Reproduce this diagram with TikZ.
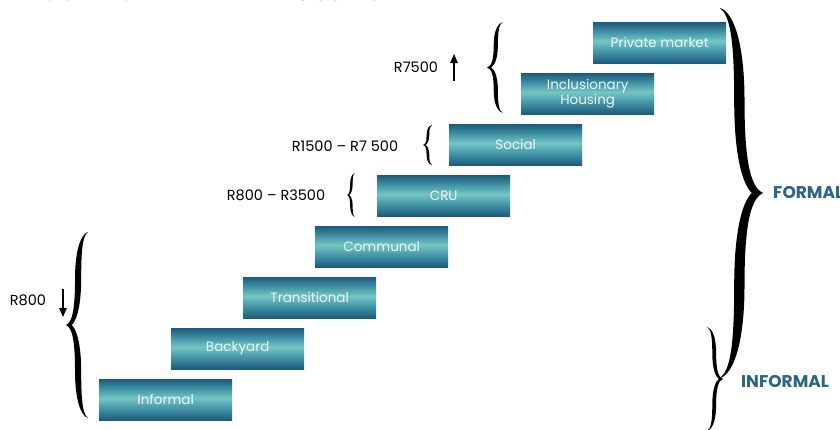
\documentclass[tikz,border=0pt]{standalone}
\usepackage{fontspec}
\setmainfont{Poppins}
\usetikzlibrary{arrows.meta}
\definecolor{tdark}{HTML}{1E5A7C}
\definecolor{tmid}{HTML}{3E8FA3}
\definecolor{tlight}{HTML}{74C6C4}
\definecolor{labblue}{HTML}{2A6587}
\definecolor{boxtext}{HTML}{EEF6F6}
\pgfdeclareverticalshading{tealbar}{100bp}{color(0bp)=(tdark); color(25bp)=(tdark); color(38bp)=(tmid); color(52bp)=(tlight); color(64bp)=(tmid); color(75bp)=(tdark); color(100bp)=(tdark)}
\tikzset{
  rung/.style={shading=tealbar, minimum width=133pt, minimum height=41pt, inner sep=0pt,
    anchor=north west, text=boxtext, font=\fontsize{13.5}{13.5}\selectfont, align=center},
  price/.style={inner sep=0pt, font=\fontsize{14.5}{15}\selectfont, text=black},
  sector/.style={inner sep=0pt, anchor=west, font=\fontsize{17}{17}\selectfont\bfseries, text=labblue},
  pricearrow/.style={line width=1.1pt, -{Triangle[length=9pt,width=7.5pt]}}
}
% calligraphic brace: x of ends, y top, y bottom, signed width, half thickness (normalized)
\newcommand{\calbrace}[5]{%
  \begin{scope}[shift={(#1,{(#2+#3)/2})}, xscale=#4, yscale={(#3-#2)/2}]
    \fill (0,1) .. controls (0.3,0.98) and ({0.45+#5},0.82) .. ({0.45+#5},0.5)
      .. controls ({0.45+#5},0.16) and (0.72,0.03) .. (1,0)
      .. controls (0.72,-0.03) and ({0.45+#5},-0.16) .. ({0.45+#5},-0.5)
      .. controls ({0.45+#5},-0.82) and (0.3,-0.98) .. (0,-1)
      .. controls (0.22,-0.96) and ({0.45-#5},-0.85) .. ({0.45-#5},-0.5)
      .. controls ({0.45-#5},-0.18) and (0.55,-0.04) .. (0.74,0)
      .. controls (0.55,0.04) and ({0.45-#5},0.18) .. ({0.45-#5},0.5)
      .. controls ({0.45-#5},0.85) and (0.22,0.96) .. (0,1) -- cycle;
  \end{scope}}
\begin{document}
\begin{tikzpicture}[x=1pt, y=-1pt]
\useasboundingbox (0,0) rectangle (840,429);
\clip (0,0) rectangle (840,429);
\fill[white] (0,0) rectangle (840,429);

% title (cut off at the top)
\node[anchor=base west, inner sep=0pt] (title) at (20,0)
  {\resizebox{458pt}{!}{\textbf{FIGURE 2:} THE RENTAL HOUSING LADDER}};

% ladder rungs
\node[rung] (informal) at (99,379) {Informal};
\node[rung] (backyard) at (171,328) {Backyard};
\node[rung] (transitional) at (243,277) {Transitional};
\node[rung] (communal) at (315,226) {Communal};
\node[rung] (cru) at (377,175) {CRU};
\node[rung] (social) at (449,124) {Social};
\node[rung] (inclusionary) at (521,73) {Inclusionary\\Housing};
\node[rung] (private) at (593,22) {Private market};

% braces
\calbrace{720}{8}{378}{43}{0.12}
\calbrace{707}{327}{431}{16}{0.12}
\calbrace{88}{232}{418}{-22}{0.14}
\calbrace{503}{22}{113}{-16}{0.13}
\calbrace{432}{125}{165}{-9}{0.15}
\calbrace{355}{173}{217}{-8}{0.16}

% price labels
\node[price] (p7500) at (416,67) {R7500};
\coordinate (up1) at (454,81);
\coordinate (up2) at (454,54);
\draw[pricearrow] (up1) -- (up2);
\node[price] (p1500) at (345,146) {R1500 – R7 500};
\node[price] (p800b) at (276,195) {R800 – R3500};
\node[price] (p800) at (28,300) {R800};
\coordinate (dn1) at (63,289);
\coordinate (dn2) at (63,317);
\draw[pricearrow] (dn1) -- (dn2);

% sector labels
\node[sector] (formal) at (773,193) {FORMAL};
\node[sector] (informallab) at (741,381) {INFORMAL};
\end{tikzpicture}
\end{document}
